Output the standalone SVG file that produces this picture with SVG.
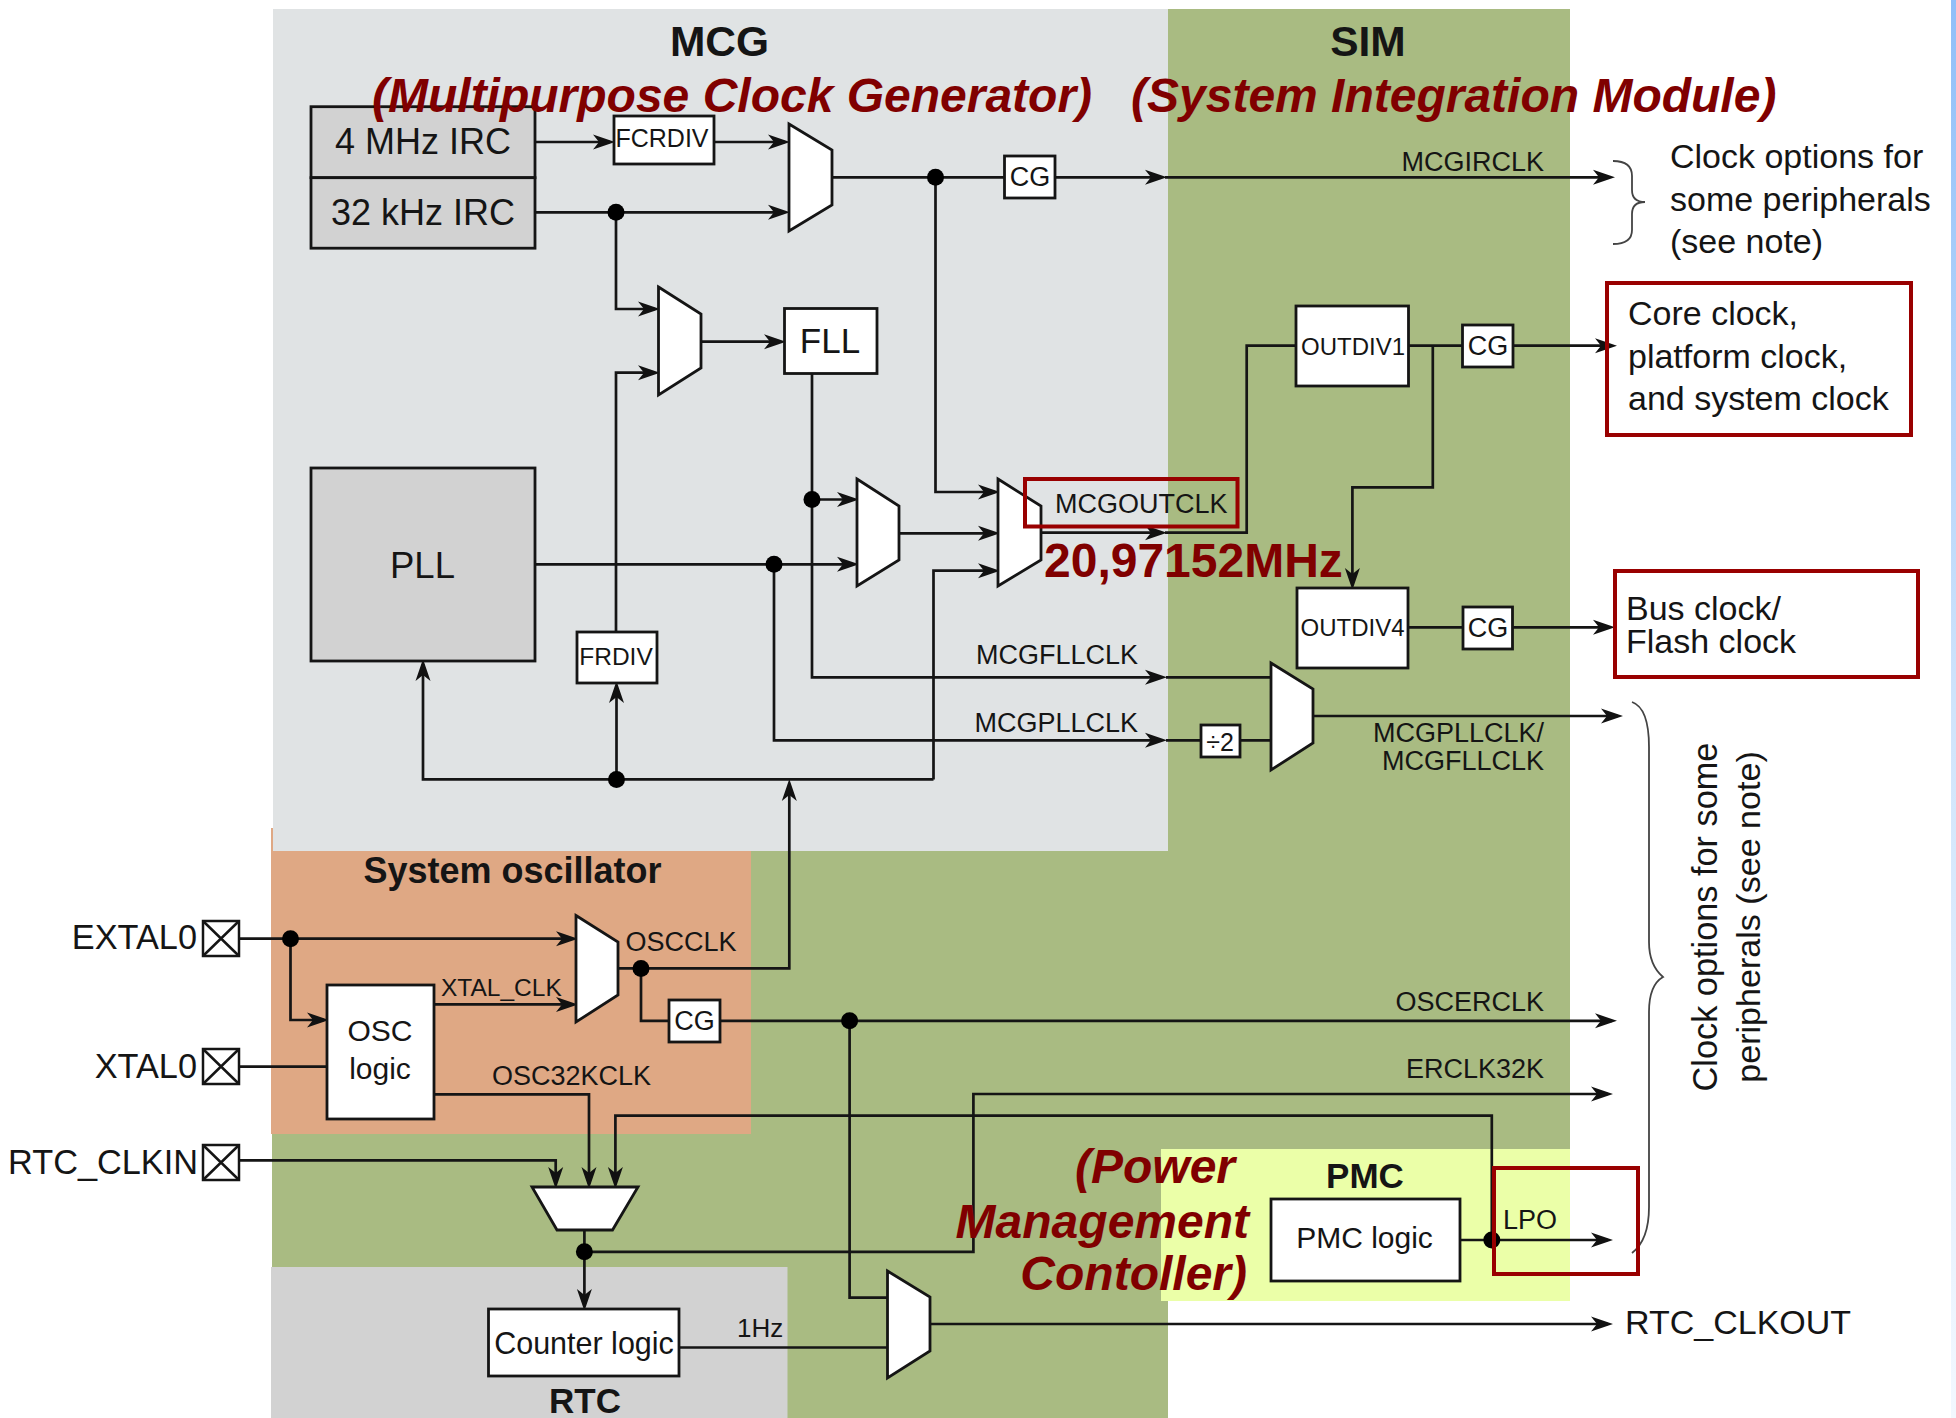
<svg xmlns="http://www.w3.org/2000/svg" width="1956" height="1418" viewBox="0 0 1956 1418">
<style>
text{font-family:"Liberation Sans",Arial,sans-serif;fill:#151515}
.b{font-weight:bold}
.r{fill:#800000;font-weight:bold;font-style:italic}
.e{text-anchor:end}.m{text-anchor:middle}
.w{fill:#fff;stroke:#151515;stroke-width:2.8}
.g{fill:#d2d2d2;stroke:#151515;stroke-width:2.8}
.c path{fill:none;stroke:#151515;stroke-width:2.7}
.a{marker-end:url(#arr)}
.c circle{fill:#000;stroke:none}
.hl{fill:none;stroke:#990000;stroke-width:4}
.x{fill:#fff;stroke:#151515;stroke-width:2.5}
.br{fill:none;stroke:#444;stroke-width:1.8}
</style>
<defs>
<marker id="arr" markerUnits="userSpaceOnUse" markerWidth="26" markerHeight="18" refX="17" refY="8" orient="auto"><path d="M22,8 L0,0.5 L6,8 L0,15.5 Z" fill="#111"/></marker>
<linearGradient id="strip" x1="0" y1="0" x2="0" y2="1"><stop offset="0" stop-color="#90bff8"/><stop offset="0.5" stop-color="#cfe4fb"/><stop offset="1" stop-color="#f2f8ff"/></linearGradient>
</defs>
<rect width="1956" height="1418" fill="#fff"/>
<rect x="1951" y="0" width="5" height="1418" fill="url(#strip)"/>
<g id="regions">
<polygon fill="#a9bb82" points="1168,9 1570,9 1570,1301 1168,1301 1168,1418 787,1418 787,1267 272,1267 272,1134 751,1134 751,850 1168,850"/>
<rect x="271" y="828" width="480" height="306" fill="#dfa884"/>
<rect x="273" y="9" width="895" height="842" fill="#e0e3e4"/>
<rect x="271" y="1267" width="516.500" height="151" fill="#d2d2d2"/>
<rect x="1161" y="1149" width="409" height="152" fill="#ebffa8"/>
</g>
<g class="c" id="connectors">
<path class="a" d="M535,142H610"/><path class="a" d="M714,142H785"/>
<path class="a" d="M535,212.300H785"/>
<path d="M832,177.300H1005"/><path class="a" d="M1055,177.300H1162"/><path class="a" d="M1165,177.300H1610"/>
<path class="a" d="M616,212.300V309H655"/><path class="a" d="M616,632V372.700H655"/>
<path class="a" d="M701,341.700H781"/>
<path class="a" d="M812,373V677.300H1162"/><path class="a" d="M812,499.500H854"/>
<path class="a" d="M535,564.300H854"/>
<path class="a" d="M774,564.300V740.300H1162"/>
<path class="a" d="M899,533.300H995"/>
<path class="a" d="M935.500,177.300V492H995"/>
<path class="a" d="M933.500,779.400V570.700H995"/>
<path class="a" d="M933.500,779.400H423V664"/>
<path class="a" d="M616.500,779.400V686"/>
<path class="a" d="M1041,532.700H1162"/>
<path d="M1165,532.700H1246.700V345.700H1296"/>
<path d="M1166,677.300H1271"/><path d="M1166,740.300H1201M1240,740.300H1271"/>
<path d="M1408,345.700H1463"/><path class="a" d="M1513,345.700H1612"/>
<path class="a" d="M1432.800,345.700V487.300H1352.400V585"/>
<path d="M1408,627.300H1463"/><path class="a" d="M1512,627.300H1610"/>
<path class="a" d="M1313,716H1618"/>
<path class="a" d="M239,938.700H573"/>
<path class="a" d="M290.500,938.700V1020H324"/>
<path d="M239,1066.600H327"/>
<path class="a" d="M434,1004.400H573"/>
<path class="a" d="M618,968.400H789.300V784"/>
<path d="M641,968.400V1020.800H669"/>
<path class="a" d="M720,1020.800H1612"/>
<path d="M849.600,1020.800V1297.600H888"/>
<path class="a" d="M434,1094.300H589V1184"/>
<path class="a" d="M239,1160.300H555.700V1184"/>
<path class="a" d="M1491.800,1240V1115.700H615.400V1184"/>
<path class="a" d="M584.400,1230V1306"/>
<path class="a" d="M584.400,1251.800H973.400V1094H1608"/>
<path class="a" d="M1460,1240H1608"/>
<path d="M679,1347.500H888"/>
<path class="a" d="M930,1324H1608"/>
<circle cx="616" cy="212.300" r="8.500"/><circle cx="935.500" cy="177.300" r="8.500"/>
<circle cx="812" cy="499.500" r="8.500"/><circle cx="774" cy="564.300" r="8.500"/>
<circle cx="616.500" cy="779.400" r="8.500"/><circle cx="290.500" cy="938.700" r="8.500"/>
<circle cx="641" cy="968.400" r="8.500"/><circle cx="849.600" cy="1020.800" r="8.500"/>
<circle cx="584.400" cy="1251.800" r="8.500"/><circle cx="1491.800" cy="1240" r="8.500"/>
</g>
<g id="irc"><rect class="g" x="311" y="106.700" width="224" height="71"/><rect class="g" x="311" y="177.700" width="224" height="70.500"/>
<text x="423" y="154" font-size="36" class="m">4 MHz IRC</text><text x="423" y="225" font-size="36" class="m">32 kHz IRC</text></g>
<g id="fcrdiv"><rect class="w" x="614" y="116" width="100" height="48"/><text x="662" y="147" font-size="25" class="m">FCRDIV</text></g>
<g id="mux1"><polygon class="w" points="789,124 832,150 832,205 789,231"/></g>
<g id="cg1"><rect class="w" x="1004.500" y="156" width="50.500" height="42"/><text x="1030" y="186" font-size="27" class="m">CG</text></g>
<g id="mux2"><polygon class="w" points="658.500,287 701,314 701,368 658.500,395"/></g>
<g id="fll"><rect class="w" x="784.500" y="308.500" width="92.500" height="65"/><text x="830" y="353" font-size="35" class="m">FLL</text></g>
<g id="pll"><rect class="g" x="311" y="468" width="224" height="193"/><text x="422.500" y="578" font-size="36.500" class="m">PLL</text></g>
<g id="frdiv"><rect class="w" x="577" y="632" width="80" height="51"/><text x="616" y="665" font-size="24.500" class="m">FRDIV</text></g>
<g id="mux3"><polygon class="w" points="857,479 899,506 899,560 857,586"/></g>
<g id="mux4"><polygon class="w" points="998,479 1041,506 1041,560 998,586"/></g>
<g id="outdiv1"><rect class="w" x="1296" y="306" width="112.500" height="80"/><text x="1353" y="355" font-size="24" class="m">OUTDIV1</text></g>
<g id="cg2"><rect class="w" x="1462.500" y="325" width="50.500" height="42"/><text x="1488" y="355" font-size="27" class="m">CG</text></g>
<g id="outdiv4"><rect class="w" x="1297" y="588" width="111" height="80"/><text x="1352.500" y="636" font-size="24" class="m">OUTDIV4</text></g>
<g id="cg3"><rect class="w" x="1463" y="607" width="49.500" height="42"/><text x="1488" y="637" font-size="27" class="m">CG</text></g>
<g id="div2"><rect class="w" x="1201" y="725" width="39" height="32"/><text x="1220" y="751" font-size="25" class="m">÷2</text></g>
<g id="mux5"><polygon class="w" points="1271,663 1313,689 1313,743 1271,770"/></g>
<g id="osc-pads">
<rect class="x" x="203" y="921" width="36" height="35"/><path class="x" d="M203,921L239,956M239,921L203,956" fill="none"/>
<rect class="x" x="203" y="1049" width="36" height="35"/><path class="x" d="M203,1049L239,1084M239,1049L203,1084" fill="none"/>
<rect class="x" x="203" y="1145" width="36" height="35"/><path class="x" d="M203,1145L239,1180M239,1145L203,1180" fill="none"/>
<text x="197" y="949" font-size="34.300" class="e">EXTAL0</text><text x="197" y="1077.500" font-size="34.300" class="e">XTAL0</text><text x="198" y="1174" font-size="34.300" class="e">RTC_CLKIN</text>
</g>
<g id="mux6"><polygon class="w" points="576,915.500 618,942 618,995 576,1022"/></g>
<g id="osc-logic"><rect class="w" x="327" y="985" width="107" height="134"/><text x="380" y="1041" font-size="30" class="m">OSC</text><text x="380" y="1079" font-size="30" class="m">logic</text></g>
<g id="cg4"><rect class="w" x="669" y="1000" width="51" height="42"/><text x="694.500" y="1030" font-size="27" class="m">CG</text></g>
<g id="mux7"><polygon class="w" points="532,1187 638,1187 612.500,1230 557,1230"/></g>
<g id="counter"><rect class="w" x="488.500" y="1309" width="190.500" height="67"/><text x="584" y="1354" font-size="30.500" class="m">Counter logic</text></g>
<g id="mux8"><polygon class="w" points="887.500,1271 930,1297 930,1351 887.500,1378"/></g>
<g id="pmc"><rect class="w" x="1271" y="1199" width="189" height="82"/><text x="1364.500" y="1248" font-size="30" class="m">PMC logic</text></g>
<g id="labels">
<text x="719.500" y="56" font-size="42.500" class="b m">MCG</text><text x="1368" y="56" font-size="42.500" class="b m">SIM</text>
<text x="512.500" y="882.500" font-size="36" class="b m">System oscillator</text>
<text x="585" y="1413" font-size="35" class="b m">RTC</text>
<text x="1365" y="1188" font-size="35" class="b m">PMC</text>
<text x="1544" y="170.500" font-size="27" class="e">MCGIRCLK</text>
<text x="1055" y="512.500" font-size="27">MCGOUTCLK</text>
<text x="1138" y="664" font-size="27" class="e">MCGFLLCLK</text>
<text x="1138" y="732" font-size="27" class="e">MCGPLLCLK</text>
<text x="1544" y="742" font-size="27" class="e">MCGPLLCLK/</text><text x="1544" y="770" font-size="27" class="e">MCGFLLCLK</text>
<text x="1544" y="1010.500" font-size="27" class="e">OSCERCLK</text><text x="1544" y="1077.500" font-size="27" class="e">ERCLK32K</text>
<text x="625.500" y="951" font-size="27">OSCCLK</text>
<text x="441" y="996" font-size="24.500">XTAL_CLK</text>
<text x="492" y="1085" font-size="27">OSC32KCLK</text>
<text x="737" y="1337" font-size="26">1Hz</text>
<text x="1503" y="1229" font-size="27">LPO</text>
<text x="1625" y="1334" font-size="34">RTC_CLKOUT</text>
<text x="1670" y="168" font-size="34">Clock options for</text><text x="1670" y="211" font-size="34">some peripherals</text><text x="1670" y="253" font-size="34">(see note)</text>
<text x="1628" y="325" font-size="34">Core clock,</text><text x="1628" y="367.500" font-size="34">platform clock,</text><text x="1628" y="410" font-size="34">and system clock</text>
<text x="1626" y="620" font-size="34">Bus clock/</text><text x="1626" y="653" font-size="34">Flash clock</text>
<text transform="translate(1717,917) rotate(-90)" font-size="34.300" class="m">Clock options for some</text>
<text transform="translate(1760,917) rotate(-90)" font-size="34.100" class="m">peripherals (see note)</text>
</g>
<g id="braces">
<path class="br" d="M1613,161Q1632,161 1632,176V190Q1632,202 1645,202Q1632,202 1632,214V230Q1632,244 1613,244"/>
<path class="br" d="M1632,702Q1649,708 1649,747V942Q1649,965 1663,977Q1649,985 1649,1012V1207Q1649,1240 1632,1253"/>
</g>
<g id="highlights">
<rect class="hl" x="1025" y="479" width="212.500" height="47.500"/>
<rect class="hl" x="1607" y="283" width="304" height="152"/>
<rect class="hl" x="1615" y="571" width="303" height="106"/>
<rect class="hl" x="1494" y="1168" width="144" height="106"/>
</g>
<g id="annotations">
<text x="372" y="112" font-size="48" class="r">(Multipurpose Clock Generator)</text>
<text x="1131" y="112" font-size="48" class="r">(System Integration Module)</text>
<text x="1044" y="577" font-size="48" class="r" style="font-style:normal">20,97152MHz</text>
<text x="1235" y="1183" font-size="48" class="r e">(Power</text>
<text x="1249" y="1238" font-size="48" class="r e">Management</text>
<text x="1247" y="1290" font-size="48" class="r e">Contoller)</text>
</g>
</svg>
